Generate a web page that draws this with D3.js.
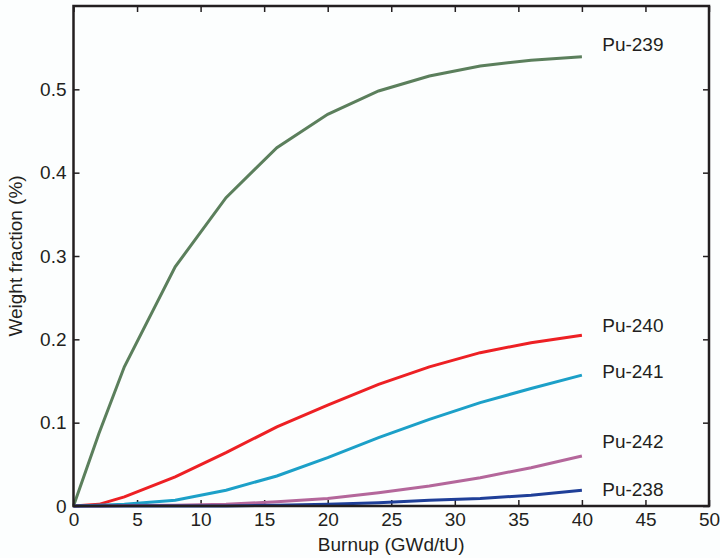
<!DOCTYPE html>
<html>
<head>
    <script src="https://d3js.org/d3.v7.min.js"></script>
    <style>
        body { margin: 0; background: #fcfefe; }
        text { font-family: "Liberation Sans", Arial, sans-serif; fill: #231f20; }
    </style>
</head>
<body>
    <svg width="720" height="558"></svg>
    <script>
        // burnup steps (GWd/tU)
        var burnup = [0, 2, 4, 8, 12, 16, 20, 24, 28, 32, 36, 40];

        // weight fraction per isotope
        var pu239 = [0, 0.087, 0.167, 0.287, 0.370, 0.430, 0.470, 0.498, 0.516, 0.528, 0.535, 0.539];
        var pu240 = [0, 0.002, 0.011, 0.035, 0.064, 0.095, 0.121, 0.146, 0.167, 0.184, 0.196, 0.205];
        var pu241 = [0, 0.001, 0.002, 0.007, 0.019, 0.036, 0.058, 0.082, 0.104, 0.124, 0.141, 0.157];
        var pu242 = [0, 0, 0.0005, 0.001, 0.002, 0.005, 0.009, 0.016, 0.024, 0.034, 0.046, 0.060];
        var pu238 = [0, 0, 0, 0, 0, 0.001, 0.002, 0.004, 0.007, 0.009, 0.013, 0.019];

        var names = ["Pu-239", "Pu-240", "Pu-241", "Pu-242", "Pu-238"];
        var colors = ["#5b7f5c", "#ed2024", "#1ca0c8", "#b4679b", "#1f3f98"];
        var labelY = [0.554, 0.217, 0.162, 0.078, 0.020];

        var xTicks = [0, 5, 10, 15, 20, 25, 30, 35, 40, 45, 50];
        var yTicks = [0, 0.1, 0.2, 0.3, 0.4, 0.5];

        var series = [pu239, pu240, pu241, pu242, pu238];

        var svg = d3.select("svg"),
            m = {left: 73.5, right: 709, top: 6, bottom: 506};

        var x = d3.scaleLinear().domain([0, 50]).range([m.left, m.right]);
        var y = d3.scaleLinear().domain([0, 0.6]).range([m.bottom, m.top]);

        // ticks, inward on all four sides
        var fmt = function(d) { return d === 0 ? "0" : d3.format(".1f")(d); };

        svg.append("g")
           .attr("transform", "translate(0," + m.bottom + ")")
           .call(d3.axisBottom(x).tickValues(xTicks).tickSize(-6).tickPadding(7))
           .call(function(g) {
               g.select(".domain").remove();
               g.selectAll("text").style("font-size", "19px");
           });
        svg.append("g")
           .attr("transform", "translate(0," + m.top + ")")
           .call(d3.axisTop(x).tickValues(xTicks).tickSize(-6).tickFormat(""))
           .call(function(g) { g.select(".domain").remove(); });
        svg.append("g")
           .attr("transform", "translate(" + m.left + ",0)")
           .call(d3.axisLeft(y).tickValues(yTicks).tickSize(-6).tickPadding(7).tickFormat(fmt))
           .call(function(g) {
               g.select(".domain").remove();
               g.selectAll("text").style("font-size", "19px");
           });
        svg.append("g")
           .attr("transform", "translate(" + m.right + ",0)")
           .call(d3.axisRight(y).tickValues(yTicks).tickSize(-6).tickFormat(""))
           .call(function(g) { g.select(".domain").remove(); });

        svg.selectAll(".tick line").attr("stroke", "#231f20").attr("stroke-width", 1.5);

        var line = d3.line()
                     .x(function(d, i) { return x(burnup[i]); })
                     .y(function(d) { return y(d); });

        svg.selectAll(".series")
           .data(series)
           .enter().append("path")
           .attr("class", "series")
           .attr("d", line)
           .attr("fill", "none")
           .attr("stroke", function(d, i) { return colors[i]; })
           .attr("stroke-width", 3);

        // frame
        svg.append("rect")
           .attr("x", m.left).attr("y", m.top)
           .attr("width", m.right - m.left).attr("height", m.bottom - m.top)
           .attr("fill", "none")
           .attr("stroke", "#231f20")
           .attr("stroke-width", 2.5);

        svg.selectAll(".lbl")
           .data(names)
           .enter().append("text")
           .attr("class", "lbl")
           .attr("x", x(41.6))
           .attr("y", function(d, i) { return y(labelY[i]); })
           .attr("dy", "0.35em")
           .style("font-size", "19px")
           .text(function(d) { return d; });

        svg.append("text")
           .attr("x", (m.left + m.right) / 2)
           .attr("y", 551)
           .attr("text-anchor", "middle")
           .style("font-size", "19px")
           .text("Burnup (GWd/tU)");

        svg.append("text")
           .attr("transform", "translate(22," + (m.top + m.bottom) / 2 + ") rotate(-90)")
           .attr("text-anchor", "middle")
           .style("font-size", "19px")
           .text("Weight fraction (%)");
    </script>
</body>
</html>
